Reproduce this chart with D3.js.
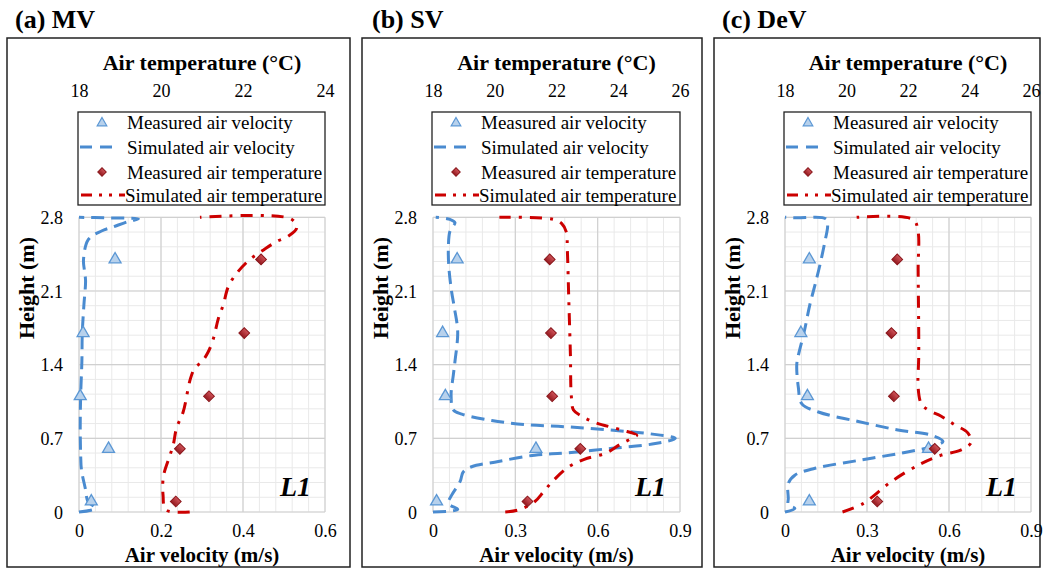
<!DOCTYPE html>
<html><head><meta charset="utf-8">
<script src="https://cdn.jsdelivr.net/npm/d3@7"></script>
<style>
body{margin:0;background:#fff}
svg text{font-family:"Liberation Serif","Times New Roman",serif;fill:#000}
</style>
</head><body>
<svg id="chart" width="1046" height="571"></svg>
<script>
// ---------- DATA ----------
const panelTitles = ["(a) MV", "(b) SV", "(c) DeV"];
const heightTicks = [0, 0.7, 1.4, 2.1, 2.8];
const velTicksA = [0, 0.2, 0.4, 0.6];
const velTicksBC = [0, 0.3, 0.6, 0.9];
const tempTicksA = [18, 20, 22, 24];
const tempTicksBC = [18, 20, 22, 24, 26];
const legendLabels = ["Measured air velocity", "Simulated air velocity", "Measured air temperature", "Simulated air temperature"];

const measHeights = [0.1, 0.6, 1.1, 1.7, 2.4];
const mvMeasVel = [0.03, 0.072, 0.003, 0.01, 0.088];
const mvMeasTemp = [20.36, 20.46, 21.17, 22.03, 22.44];
const svMeasVel = [0.013, 0.375, 0.045, 0.035, 0.088];
const svMeasTemp = [21.06, 22.77, 21.86, 21.82, 21.78];
const devMeasVel = [0.089, 0.525, 0.082, 0.058, 0.089];
const devMeasTemp = [21.0, 22.87, 21.54, 21.46, 21.65];

const mvSimVelH = [0, 0.035, 0.1, 0.23, 0.4, 0.55, 0.8, 1.1, 1.43, 1.7, 1.97, 2.2, 2.3, 2.4, 2.59, 2.67, 2.71, 2.76, 2.785, 2.795, 2.8];
const mvSimVelV = [0, 0.04, 0.022, 0.015, 0.006, 0.004, 0.003, 0.004, 0.007, 0.008, 0.012, 0.016, 0.013, 0.011, 0.023, 0.055, 0.084, 0.12, 0.145, 0.06, 0];
const mvSimTempH = [0, 0.02, 0.16, 0.34, 0.54, 0.64, 0.8, 0.95, 1.27, 1.37, 1.43, 1.52, 1.65, 1.84, 1.97, 2.14, 2.27, 2.4, 2.49, 2.57, 2.62, 2.7, 2.785, 2.8];
const mvSimTempT = [20.7, 20.12, 20.05, 20.06, 20.22, 20.3, 20.38, 20.54, 20.72, 20.83, 21.0, 21.15, 21.28, 21.4, 21.52, 21.64, 21.85, 22.17, 22.5, 22.82, 23.1, 23.31, 23.17, 20.95];

const svSimVelH = [0, 0.025, 0.08, 0.16, 0.29, 0.38, 0.43, 0.48, 0.54, 0.56, 0.605, 0.65, 0.7, 0.74, 0.78, 0.81, 0.83, 0.87, 0.93, 0.97, 1.11, 1.3, 1.43, 1.71, 1.94, 2.09, 2.32, 2.51, 2.67, 2.75, 2.78, 2.8];
const svSimVelV = [0, 0.09, 0.056, 0.068, 0.099, 0.11, 0.141, 0.238, 0.37, 0.48, 0.652, 0.81, 0.883, 0.8, 0.64, 0.482, 0.336, 0.214, 0.105, 0.074, 0.066, 0.074, 0.08, 0.09, 0.078, 0.068, 0.058, 0.056, 0.062, 0.08, 0.062, 0.01];
const svSimTempH = [0, 0.02, 0.1, 0.2, 0.3, 0.43, 0.5, 0.56, 0.64, 0.71, 0.73, 0.78, 0.85, 0.91, 0.97, 1.1, 1.5, 2.0, 2.5, 2.66, 2.74, 2.78, 2.8];
const svSimTempT = [20.34, 20.77, 21.3, 21.6, 21.9, 22.4, 22.9, 23.6, 24.05, 24.5, 24.6, 24.1, 23.25, 22.82, 22.55, 22.48, 22.45, 22.4, 22.35, 22.32, 22.17, 21.9, 20.15];

const devSimVelH = [0, 0.035, 0.07, 0.13, 0.27, 0.35, 0.415, 0.49, 0.56, 0.62, 0.67, 0.73, 0.78, 0.86, 0.95, 1.03, 1.18, 1.4, 1.49, 1.71, 1.97, 2.16, 2.35, 2.57, 2.72, 2.785, 2.795, 2.8];
const devSimVelV = [0, 0.036, 0.012, 0.012, 0.012, 0.036, 0.11, 0.268, 0.426, 0.535, 0.578, 0.535, 0.413, 0.268, 0.122, 0.061, 0.049, 0.043, 0.049, 0.07, 0.091, 0.11, 0.128, 0.146, 0.156, 0.15, 0.04, 0];
const devSimTempH = [0, 0.08, 0.29, 0.46, 0.54, 0.59, 0.66, 0.75, 0.83, 0.91, 0.97, 1.03, 1.18, 1.5, 2.29, 2.68, 2.78, 2.8];
const devSimTempT = [19.87, 20.54, 21.46, 22.43, 23.08, 23.73, 24.05, 23.95, 23.51, 23.08, 22.65, 22.43, 22.33, 22.35, 22.33, 22.32, 22.16, 20.33];

// ---------- LAYOUT ----------
const BLUE = "#4a8bd0", RED = "#cc0000";
const panels = [
  {title: panelTitles[0], titleX: 15, frame: [7, 38, 350, 567], left: 79, right: 325, vMax: 0.6, vMinor: 0.04, tMax: 24,
   velTicks: velTicksA, tempTicks: tempTicksA, measVel: mvMeasVel, measTemp: mvMeasTemp,
   simVelH: mvSimVelH, simVelV: mvSimVelV, simTempH: mvSimTempH, simTempT: mvSimTempT},
  {title: panelTitles[1], titleX: 372, frame: [362, 38, 702, 567], left: 433, right: 680, vMax: 0.9, vMinor: 0.06, tMax: 26,
   velTicks: velTicksBC, tempTicks: tempTicksBC, measVel: svMeasVel, measTemp: svMeasTemp,
   simVelH: svSimVelH, simVelV: svSimVelV, simTempH: svSimTempH, simTempT: svSimTempT},
  {title: panelTitles[2], titleX: 722, frame: [714, 38, 1040, 567], left: 785, right: 1031, vMax: 0.9, vMinor: 0.06, tMax: 26,
   velTicks: velTicksBC, tempTicks: tempTicksBC, measVel: devMeasVel, measTemp: devMeasTemp,
   simVelH: devSimVelH, simVelV: devSimVelV, simTempH: devSimTempH, simTempT: devSimTempT}
];

const svg = d3.select("#chart");
const defs = svg.append("defs");
const grad = defs.append("linearGradient").attr("id", "dia").attr("x1", 0).attr("y1", 0).attr("x2", 0).attr("y2", 1);
grad.append("stop").attr("offset", "0%").attr("stop-color", "#d0545a");
grad.append("stop").attr("offset", "100%").attr("stop-color", "#951a20");

const y = d3.scaleLinear().domain([0, 2.8]).range([512, 217.3]);
const triSym = d3.symbol().type(d3.symbolTriangle).size(62);
const triSymSmall = d3.symbol().type(d3.symbolTriangle).size(40);
const sqSym = d3.symbol().type(d3.symbolSquare).size(58);
const sqSymSmall = d3.symbol().type(d3.symbolSquare).size(36);

panels.forEach(p => {
  const g = svg.append("g");
  const x = d3.scaleLinear().domain([0, p.vMax]).range([p.left, p.right]);
  const xt = d3.scaleLinear().domain([18, p.tMax]).range([p.left, p.right]);

  // frame
  g.append("rect").attr("x", p.frame[0]).attr("y", p.frame[1])
    .attr("width", p.frame[2] - p.frame[0]).attr("height", p.frame[3] - p.frame[1])
    .attr("fill", "none").attr("stroke", "#222").attr("stroke-width", 1.5);

  // panel title
  svg.append("text").attr("x", p.titleX).attr("y", 28).attr("font-size", 26).attr("font-weight", "bold").text(p.title);

  // minor grid
  const minorV = d3.range(0, Math.round(p.vMax / p.vMinor) + 1).map(i => i * p.vMinor);
  const minorH = d3.range(0, 21).map(i => i * 0.14);
  g.selectAll(".mv").data(minorV).join("line")
    .attr("x1", d => x(d)).attr("x2", d => x(d)).attr("y1", y(0)).attr("y2", y(2.8))
    .attr("stroke", "#e9e9e9").attr("stroke-width", 1);
  g.selectAll(".mh").data(minorH).join("line")
    .attr("x1", p.left).attr("x2", p.right).attr("y1", d => y(d)).attr("y2", d => y(d))
    .attr("stroke", "#e9e9e9").attr("stroke-width", 1);
  // major grid
  g.selectAll(".Mv").data(p.velTicks).join("line")
    .attr("x1", d => x(d)).attr("x2", d => x(d)).attr("y1", y(0)).attr("y2", y(2.8))
    .attr("stroke", "#d0d0d0").attr("stroke-width", 1.2);
  g.selectAll(".Mh").data(heightTicks).join("line")
    .attr("x1", p.left).attr("x2", p.right).attr("y1", d => y(d)).attr("y2", d => y(d))
    .attr("stroke", "#d0d0d0").attr("stroke-width", 1.2);

  // axes (labels only)
  const styleAxis = sel => { sel.select(".domain").remove(); sel.selectAll("text").attr("font-size", 18).attr("font-family", "Liberation Serif, serif").attr("fill", "#000"); };
  g.append("g").attr("transform", `translate(0,${y(0)})`)
    .call(d3.axisBottom(x).tickValues(p.velTicks).tickSize(0).tickFormat(d => String(d)))
    .call(styleAxis)
    .call(s => s.selectAll("text").attr("y", 19).attr("dy", "0.35em"));
  g.append("g").attr("transform", `translate(0,91)`)
    .call(d3.axisTop(xt).tickValues(p.tempTicks).tickSize(0).tickFormat(d => String(d)))
    .call(styleAxis)
    .call(s => s.selectAll("text").attr("y", 0).attr("dy", "0.35em"));
  g.append("g").attr("transform", `translate(${p.left},0)`)
    .call(d3.axisLeft(y).tickValues(heightTicks).tickSize(0).tickFormat(d => String(d)))
    .call(styleAxis)
    .call(s => s.selectAll("text").attr("x", -16).attr("dy", "0.35em"));

  // axis titles
  const cx = (p.left + p.right) / 2;
  g.append("text").attr("x", cx).attr("y", 70).attr("text-anchor", "middle").attr("font-size", 22).attr("font-weight", "bold").text("Air temperature (°C)");
  g.append("text").attr("x", cx).attr("y", 562).attr("text-anchor", "middle").attr("font-size", 21).attr("font-weight", "bold").text("Air velocity (m/s)");
  g.append("text").attr("transform", `translate(${p.left - 53},288) rotate(-90)`).attr("text-anchor", "middle").attr("dy", "0.35em")
    .attr("font-size", 22).attr("font-weight", "bold").text("Height (m)");

  // L1
  g.append("text").attr("x", p.right - 14).attr("y", 496).attr("text-anchor", "end").attr("font-size", 28)
    .attr("font-weight", "bold").attr("font-style", "italic").text("L1");

  // simulated lines
  const velPts = p.simVelH.map((h, i) => [p.simVelV[i], h]);
  const tempPts = p.simTempH.map((h, i) => [p.simTempT[i], h]);
  const lineV = d3.line().x(d => x(d[0])).y(d => y(d[1])).curve(d3.curveCatmullRom.alpha(0.5));
  const lineT = d3.line().x(d => xt(d[0])).y(d => y(d[1])).curve(d3.curveCatmullRom.alpha(0.5));
  g.append("path").datum(velPts).attr("d", lineV).attr("fill", "none").attr("stroke", BLUE)
    .attr("stroke-width", 3).attr("stroke-dasharray", "13,7");
  g.append("path").datum(tempPts).attr("d", lineT).attr("fill", "none").attr("stroke", RED)
    .attr("stroke-width", 3).attr("stroke-dasharray", "12,8,3,8");

  // measured markers
  g.selectAll(".tri").data(measHeights).join("path")
    .attr("d", triSym).attr("transform", (h, i) => `translate(${x(p.measVel[i])},${y(h)})`)
    .attr("fill", "#b7d1ec").attr("stroke", "#5b97d4").attr("stroke-width", 1.3);
  g.selectAll(".dia").data(measHeights).join("path")
    .attr("d", sqSym).attr("transform", (h, i) => `translate(${xt(p.measTemp[i])},${y(h)}) rotate(45)`)
    .attr("fill", "url(#dia)").attr("stroke", "#8a161b").attr("stroke-width", 1);

  // legend
  const lg = g.append("g");
  lg.append("rect").attr("x", p.left - 1).attr("y", 112).attr("width", p.right - p.left + 1).attr("height", 93)
    .attr("fill", "#fff").attr("stroke", "#222").attr("stroke-width", 1.3);
  const rows = [122, 147, 172, 195];
  lg.append("path").attr("d", triSymSmall).attr("transform", `translate(${p.left + 23},${rows[0] + 1})`)
    .attr("fill", "#b7d1ec").attr("stroke", "#5b97d4").attr("stroke-width", 1.2);
  lg.append("line").attr("x1", p.left + 1).attr("x2", p.left + 38).attr("y1", rows[1]).attr("y2", rows[1])
    .attr("stroke", BLUE).attr("stroke-width", 3).attr("stroke-dasharray", "12,8");
  lg.append("path").attr("d", sqSymSmall).attr("transform", `translate(${p.left + 23},${rows[2]}) rotate(45)`)
    .attr("fill", "url(#dia)").attr("stroke", "#8a161b").attr("stroke-width", 1);
  lg.append("line").attr("x1", p.left + 2).attr("x2", p.left + 46).attr("y1", rows[3]).attr("y2", rows[3])
    .attr("stroke", RED).attr("stroke-width", 3).attr("stroke-dasharray", "11,7,3,7,3,7");
  lg.selectAll(".lt").data(legendLabels).join("text")
    .attr("x", (d, i) => p.left + (i === 3 ? 46 : 48)).attr("y", (d, i) => rows[i]).attr("dy", "0.35em")
    .attr("font-size", 19).text(d => d);
});
</script>
</body></html>
